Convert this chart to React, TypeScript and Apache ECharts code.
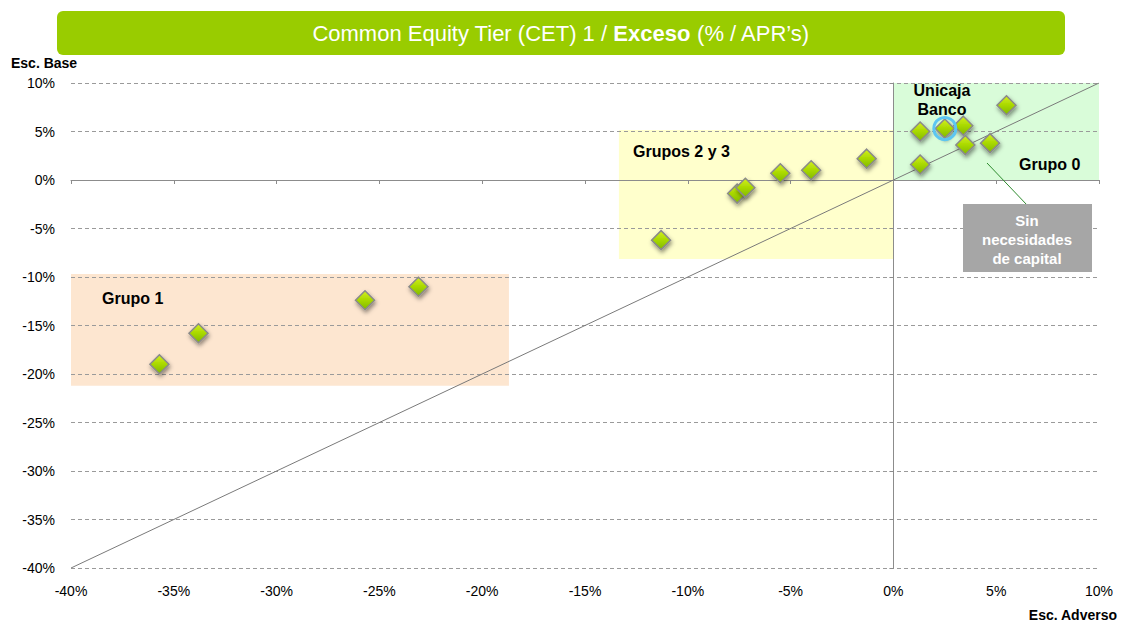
import React, { useEffect, useRef } from "react";
import * as echarts from "echarts";

const xTicks = [-40, 10, 5];
const yTicks = [-40, 10, 5];

// [Esc. Adverso, Esc. Base]
const grupo1 = [
  [-35.7, -19.0],
  [-33.8, -15.8],
  [-25.7, -12.4],
  [-23.1, -11.0],
];
const grupos23 = [
  [-11.3, -6.2],
  [-7.6, -1.4],
  [-7.2, -0.8],
  [-5.5, 0.7],
  [-4.0, 1.0],
  [-1.3, 2.2],
];
const grupo0 = [
  [1.3, 5.0],
  [3.4, 5.6],
  [5.5, 7.7],
  [3.5, 3.6],
  [4.7, 3.8],
  [1.3, 1.6],
];
const unicaja = [[2.5, 5.3]];
const diagonal = [
  [-40, -40],
  [10, 10],
];
// [x1, y1, x2, y2]
const areaGrupo1 = [-40, -9.7, -18.7, -21.2];
const areaGrupos23 = [-13.35, 5.15, 0, -8.15];
const areaGrupo0 = [0, 10, 10, 0];

const FONT = "'Liberation Sans', Arial, sans-serif";

export default function App() {
  const ref = useRef<HTMLDivElement>(null);
  useEffect(() => {
    if (!ref.current) return;
    const chart = echarts.init(ref.current, null, { renderer: "svg" });
    const diamondStyle = {
      color: new echarts.graphic.LinearGradient(0, 0, 0, 1, [
        { offset: 0, color: "#d4f01e" },
        { offset: 0.5, color: "#a8d800" },
        { offset: 1, color: "#80b800" },
      ]),
      opacity: 1,
      borderColor: "#8a8a8a",
      borderWidth: 1.5,
      shadowColor: "rgba(0,0,0,0.45)",
      shadowBlur: 4,
      shadowOffsetX: 1,
      shadowOffsetY: 2.5,
    };
    const axisLabel = {
      formatter: "{value}%",
      color: "#000",
      fontSize: 14,
      fontFamily: FONT,
    };
    const ma = (a: number[], color: string) => [
      { xAxis: a[0], yAxis: a[1], itemStyle: { color } },
      { xAxis: a[2], yAxis: a[3] },
    ];
    const T = (x: number, y: number, style: any) => ({ type: "text", x, y, z: 100, style });
    const option = {
      animation: false,
      textStyle: { fontFamily: FONT },
      grid: { left: 71, right: 22, top: 83, bottom: 56 },
      xAxis: [
        {
          type: "value",
          min: xTicks[0],
          max: xTicks[1],
          interval: xTicks[2],
          position: "bottom",
          axisLine: { show: false },
          axisTick: { show: false },
          splitLine: { show: false },
          axisLabel: { ...axisLabel, margin: 16 },
        },
        {
          type: "value",
          min: xTicks[0],
          max: xTicks[1],
          interval: xTicks[2],
          position: "bottom",
          z: 3,
          axisLine: { show: true, onZero: true, lineStyle: { color: "#8c8c8c", width: 1 } },
          axisTick: { show: true, length: 4, lineStyle: { color: "#8c8c8c" } },
          splitLine: { show: false },
          axisLabel: { show: false },
        },
      ],
      yAxis: [
        {
          type: "value",
          min: yTicks[0],
          max: yTicks[1],
          interval: yTicks[2],
          position: "left",
          z: 3,
          axisLine: { show: false },
          axisTick: { show: false },
          splitLine: {
            show: true,
            lineStyle: { color: "#9a9a9a", type: [4, 3], width: 1 },
          },
          axisLabel: { ...axisLabel, margin: 16 },
        },
        {
          type: "value",
          min: yTicks[0],
          max: yTicks[1],
          interval: yTicks[2],
          position: "left",
          z: 3,
          axisLine: { show: true, onZero: true, lineStyle: { color: "#8c8c8c", width: 1 } },
          axisTick: { show: true, length: 4, lineStyle: { color: "#8c8c8c" } },
          splitLine: { show: false },
          axisLabel: { show: false },
        },
      ],
      series: [
        {
          type: "scatter",
          z: 0,
          data: [],
          silent: true,
          markArea: {
            silent: true,
            z: 0,
            data: [
              ma(areaGrupo1, "#fde6d0"),
              ma(areaGrupos23, "#ffffcc"),
              ma(areaGrupo0, "#d9fcd9"),
            ],
          },
        },
        {
          type: "line",
          data: diagonal,
          symbol: "none",
          lineStyle: { color: "#7a7a7a", width: 1 },
          z: 4,
        },
        {
          type: "scatter",
          data: [...grupo1, ...grupos23, ...grupo0, ...unicaja],
          symbol: "diamond",
          symbolSize: [19, 19],
          itemStyle: diamondStyle,
          z: 6,
        },
        {
          type: "scatter",
          data: unicaja,
          symbol: "circle",
          symbolSize: 22,
          itemStyle: { color: "rgba(0,0,0,0)", opacity: 1, borderColor: "#5cc6f2", borderWidth: 3 },
          z: 7,
        },
      ],
      graphic: [
        {
          type: "rect",
          z: 100,
          shape: { x: 57, y: 11, width: 1008, height: 44, r: 6 },
          style: { fill: "#99cc00" },
        },
        T(561, 33, {
          text: "{n|Common Equity Tier (CET) 1 / }{b|Exceso}{n| (% / APR\u2019s)}",
          align: "center",
          verticalAlign: "middle",
          rich: {
            n: { fill: "#fff", fontSize: 22, fontFamily: FONT },
            b: { fill: "#fff", fontSize: 22, fontWeight: "bold", fontFamily: FONT },
          },
        }),
        T(11, 63, { text: "Esc. Base", font: `bold 14px ${FONT}`, fill: "#000", verticalAlign: "middle" }),
        T(1117, 615, { text: "Esc. Adverso", font: `bold 14px ${FONT}`, fill: "#000", align: "right", verticalAlign: "middle" }),
        T(102, 298, { text: "Grupo 1", font: `bold 16px ${FONT}`, fill: "#000", verticalAlign: "middle" }),
        T(633, 151, { text: "Grupos 2 y 3", font: `bold 16px ${FONT}`, fill: "#000", verticalAlign: "middle" }),
        T(1019, 164, { text: "Grupo 0", font: `bold 16px ${FONT}`, fill: "#000", verticalAlign: "middle" }),
        T(942, 99.5, {
          text: "Unicaja\nBanco",
          font: `bold 16px ${FONT}`,
          fill: "#000",
          align: "center",
          verticalAlign: "middle",
          lineHeight: 19,
        }),
        {
          type: "line",
          z: 100,
          shape: { x1: 987, y1: 163, x2: 1027, y2: 205 },
          style: { stroke: "#2e8b2e", lineWidth: 1 },
        },
        {
          type: "rect",
          z: 100,
          shape: { x: 963, y: 204, width: 129, height: 68 },
          style: { fill: "#a6a6a6" },
        },
        T(1027, 239, {
          text: "Sin\nnecesidades\nde capital",
          font: `bold 15px ${FONT}`,
          fill: "#fff",
          align: "center",
          verticalAlign: "middle",
          lineHeight: 19,
        }),
      ],
    };
    chart.setOption(option as any);
    return () => chart.dispose();
  }, []);
  return (
    <div
      ref={ref}
      style={{ position: "fixed", left: 0, top: 0, width: 1121, height: 624, background: "#fff" }}
    />
  );
}
